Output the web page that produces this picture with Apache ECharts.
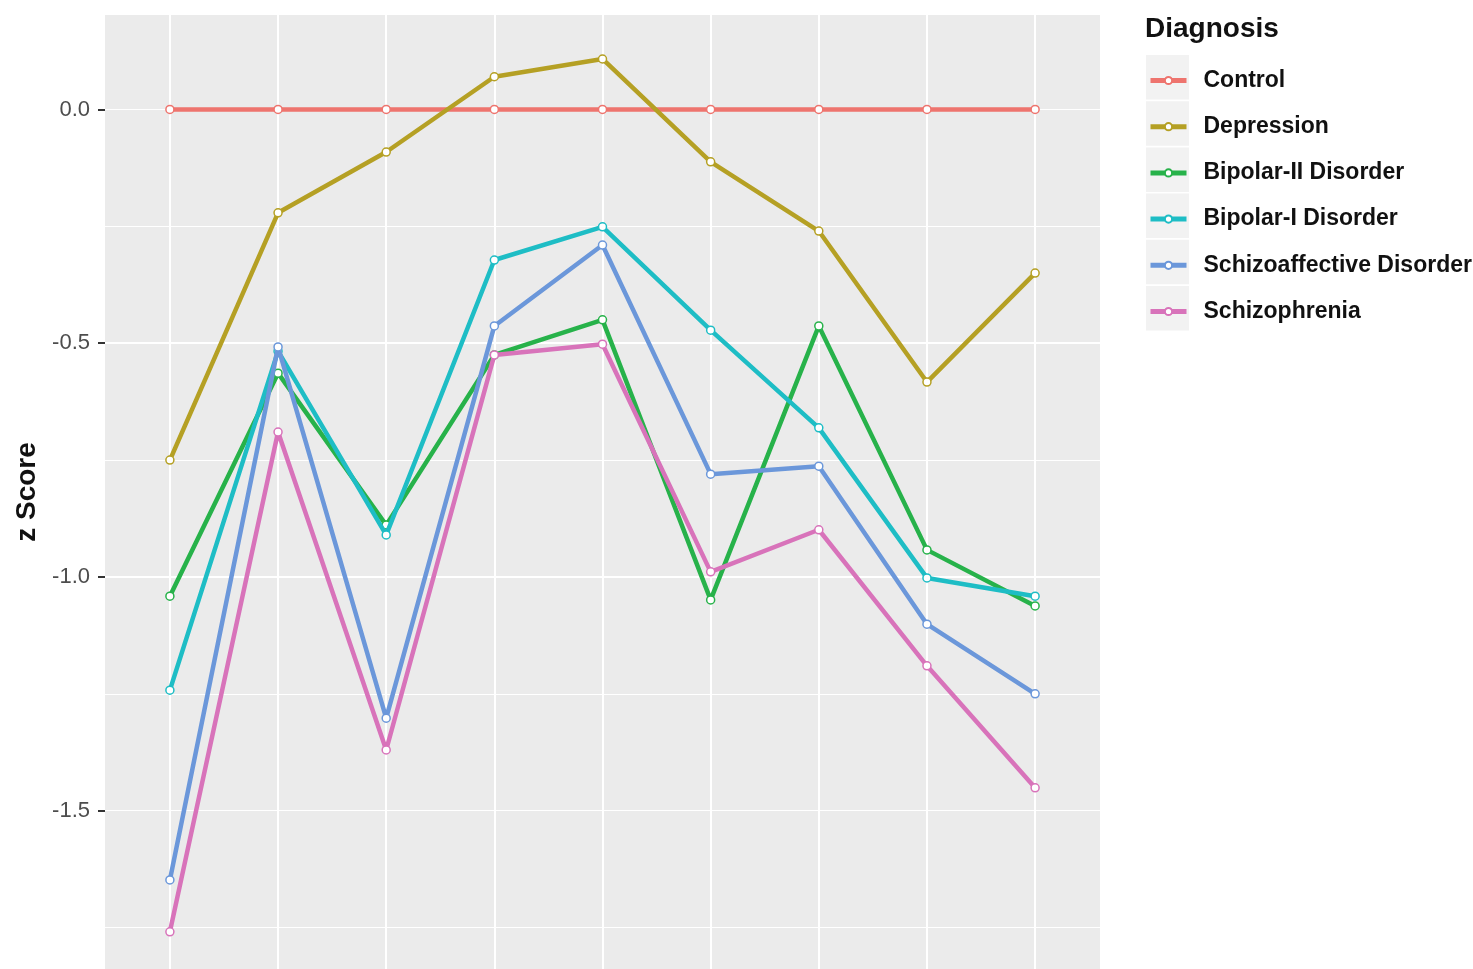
<!DOCTYPE html>
<html>
<head>
<meta charset="utf-8">
<script src="https://cdn.jsdelivr.net/npm/echarts@6/dist/echarts.min.js"></script>
<style>
  html, body { margin: 0; padding: 0; background: #fff; overflow: hidden; }
  #chart { width: 1473px; height: 969px; }
</style>
</head>
<body>
<div id="chart"></div>
<script>
// test positions along x (labels are cut off in the source image)
var testPos = [1, 2, 3, 4, 5, 6, 7, 8, 9];

var diagnoses = ['Control', 'Depression', 'Bipolar-II Disorder', 'Bipolar-I Disorder',
  'Schizoaffective Disorder', 'Schizophrenia'];
var diagColors = ['#EE746E', '#B5A024', '#27B24A', '#1EBDC5', '#6B97DA', '#D873BA'];

var control        = [0, 0, 0, 0, 0, 0, 0, 0, 0];
var depression     = [-0.750, -0.221, -0.091, 0.070, 0.108, -0.112, -0.260, -0.583, -0.350];
var bipolar2       = [-1.041, -0.564, -0.889, -0.525, -0.450, -1.049, -0.463, -0.942, -1.062];
var bipolar1       = [-1.242, -0.517, -0.910, -0.322, -0.251, -0.472, -0.681, -1.002, -1.041];
var schizoaffective = [-1.648, -0.508, -1.302, -0.463, -0.290, -0.780, -0.763, -1.101, -1.250];
var schizophrenia  = [-1.759, -0.690, -1.370, -0.525, -0.502, -0.989, -0.899, -1.190, -1.451];

var yMajorTicks = [-1.5, -1.0, -0.5, 0.0];

var allValues = [control, depression, bipolar2, bipolar1, schizoaffective, schizophrenia];

// panel runs from y=15 to the bottom edge of the picture
var yMin = -1.8385, yMax = 0.2021;
var xMin = 0.4, xMax = 9.6;

var chart = echarts.init(document.getElementById('chart'));

var series = diagnoses.map(function (name, i) {
  return {
    name: name,
    type: 'line',
    data: testPos.map(function (x, k) { return [x, allValues[i][k]]; }),
    symbol: 'circle',
    symbolSize: 8,
    lineStyle: { color: diagColors[i], width: 4.5 },
    itemStyle: { color: '#fff', borderColor: diagColors[i], borderWidth: 1.5 },
    emphasis: { disabled: true },
    z: 3 + i
  };
});

// grey key squares behind the legend icons
var keyBoxes = diagnoses.map(function (d, i) {
  return {
    type: 'rect',
    shape: { x: 1146, y: 55 + i * 46.2, width: 43, height: 44.5 },
    style: { fill: '#F2F2F2' },
    z: -1
  };
});

var option = {
  animation: false,
  backgroundColor: '#fff',
  title: {
    text: 'Diagnosis',
    left: 1140,
    top: 10,
    textStyle: { fontFamily: 'Liberation Sans, Arial, sans-serif', fontSize: 28, fontWeight: 'bold', color: '#111' }
  },
  legend: {
    data: diagnoses,
    orient: 'vertical',
    left: 1143,
    top: 63.5,
    itemWidth: 36,
    itemHeight: 9,
    itemGap: 22.2,
    selectedMode: false,
    lineStyle: { width: 5 },
    textStyle: {
      fontFamily: 'Liberation Sans, Arial, sans-serif',
      fontSize: 23,
      fontWeight: 'bold',
      color: '#111',
      lineHeight: 24,
      padding: [0, 0, 0, 12]
    }
  },
  graphic: keyBoxes,
  grid: {
    left: 105,
    right: 373,
    top: 15,
    bottom: 0,
    show: true,
    backgroundColor: '#EBEBEB',
    borderWidth: 0
  },
  xAxis: {
    type: 'value',
    min: xMin,
    max: xMax,
    minInterval: 1,
    maxInterval: 1,
    axisLine: { show: false },
    axisTick: { show: false },
    axisLabel: { show: false },
    splitLine: { show: true, showMinLine: false, showMaxLine: false, lineStyle: { color: '#fff', width: 2 } }
  },
  yAxis: [
    {
      type: 'value',
      min: yMin,
      max: yMax,
      minInterval: 0.5,
      maxInterval: 0.5,
      name: 'z Score',
      nameLocation: 'middle',
      nameGap: 64,
      nameTextStyle: { fontFamily: 'Liberation Sans, Arial, sans-serif', fontSize: 28, fontWeight: 'bold', color: '#111' },
      axisLine: { show: false },
      axisTick: { show: true, length: 7, customValues: yMajorTicks, lineStyle: { color: '#333', width: 2 } },
      axisLabel: {
        margin: 15,
        customValues: yMajorTicks,
        fontFamily: 'Liberation Sans, Arial, sans-serif',
        fontSize: 22,
        color: '#4D4D4D',
        formatter: function (v) { return v.toFixed(1); }
      },
      splitLine: { show: true, showMinLine: false, showMaxLine: false, lineStyle: { color: '#fff', width: 2 } },
      z: 2
    },
    {
      type: 'value',
      min: yMin,
      max: yMax,
      minInterval: 0.25,
      maxInterval: 0.25,
      position: 'left',
      axisLine: { show: false },
      axisTick: { show: false },
      axisLabel: { show: false },
      splitLine: { show: true, showMinLine: false, showMaxLine: false, lineStyle: { color: '#fff', width: 1 } },
      z: 1
    }
  ],
  series: series
};

chart.setOption(option);
</script>
</body>
</html>
